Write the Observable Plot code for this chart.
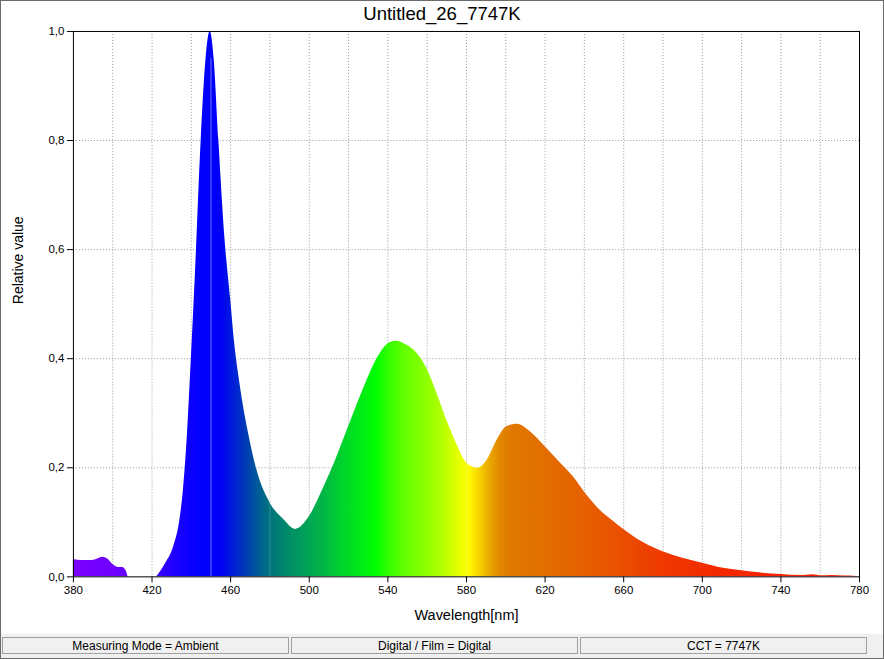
<!DOCTYPE html>
<html>
<head>
<meta charset="utf-8">
<script src="https://cdn.jsdelivr.net/npm/d3@7"></script>
<script src="https://cdn.jsdelivr.net/npm/@observablehq/plot@0.6"></script>
<style>
  html, body { margin: 0; padding: 0; background: #fff; }
  #win {
    position: relative; width: 884px; height: 659px; box-sizing: border-box;
    border: 1px solid #6a6a6a; background: #fff; overflow: hidden;
    font-family: "Liberation Sans", Arial, sans-serif;
  }
  #title {
    position: absolute; top: 2px; left: 0; width: 882px; text-align: center;
    font-size: 18.5px; color: #000;
  }
  #chart { position: absolute; top: -1px; left: -1px; }
  #status {
    position: absolute; left: 0; top: 633px; width: 882px; height: 24px; background: #f0f0f0;
  }
  .panel {
    position: absolute; top: 3px; height: 17px; box-sizing: border-box;
    border: 1px solid #a0a0a0; font-size: 12px; line-height: 16px; text-align: center; color: #000;
  }
</style>
</head>
<body>
<div id="win">
  <div id="chart"></div>
  <div id="title">Untitled_26_7747K</div>
  <div id="status"></div>
</div>
<script>
// spectrum
const wavelengths = [380, 384, 388, 391, 395, 398, 400, 403, 405, 407, 408, 422, 424, 427, 431, 434, 436, 438, 440, 442, 445, 447.5, 449.6, 451.6, 454, 457, 460, 462, 464.5, 469, 474, 480, 487, 493, 500, 506, 513, 520, 528, 535, 540, 544, 550, 555, 560, 565, 570, 575, 580, 585.5, 590.5, 595.5, 600.5, 606, 612.5, 621, 628, 634.5, 641, 648, 655, 660, 670, 680, 690, 700, 710, 720, 730, 740, 750, 756, 761, 766, 772, 777, 780]
const values = [0.032, 0.030, 0.030, 0.031, 0.036, 0.031, 0.023, 0.017, 0.017, 0.010, 0, 0, 0.008, 0.025, 0.055, 0.10, 0.16, 0.26, 0.40, 0.55, 0.80, 0.95, 1.0, 0.95, 0.80, 0.625, 0.51, 0.43, 0.36, 0.265, 0.188, 0.136, 0.105, 0.087, 0.11, 0.153, 0.21, 0.275, 0.348, 0.403, 0.427, 0.432, 0.424, 0.409, 0.381, 0.336, 0.287, 0.244, 0.209, 0.199, 0.214, 0.25, 0.275, 0.280, 0.266, 0.235, 0.208, 0.183, 0.151, 0.122, 0.101, 0.087, 0.063, 0.046, 0.034, 0.025, 0.016, 0.011, 0.007, 0.0043, 0.0025, 0.004, 0.002, 0.0025, 0.0015, 0.001, 0]

// colour of the fill along the wavelength axis
const stopNm = [380, 400, 410, 425, 435, 445, 455, 462, 468, 474, 480, 488, 498, 508, 518, 528, 534, 540, 548, 556, 564, 572, 578, 582, 586, 591, 597, 603, 620, 645, 665, 685, 710, 740, 780]
const stopColors = ['#7b00ff', '#7000ff', '#5e00ff', '#3400ff', '#1400ff', '#0000ff', '#0000f5', '#0020d8', '#003cb4', '#005a98', '#00727e', '#00886c', '#00a058', '#00b844', '#00d62a', '#00ee12', '#00ff00', '#30ff00', '#60ff00', '#80ff00', '#a0ff00', '#ccff00', '#eeff00', '#fff700', '#f8d800', '#ecb000', '#e28800', '#e07800', '#e26e00', '#e75c00', '#ec4800', '#f03400', '#f42800', '#f82200', '#ff2000']

const xTicks = d3.range(380, 781, 40)
const xGrid = d3.range(400, 761, 20)
const yTicks = [0, 0.2, 0.4, 0.6, 0.8, 1.0]
const yGrid = [0.2, 0.4, 0.6, 0.8]
const markNm = [450, 480, 580] // light lines showing through the fill
const markOpacity = [0.45, 0.2, 0.2]

const statusTexts = ['Measuring Mode = Ambient', 'Digital / Film = Digital', 'CCT = 7747K']

const data = wavelengths.map((w, i) => ({w: w, v: values[i]}))
const marks = markNm.map((nm, i) => ({w: nm, v: values[wavelengths.findIndex(w => w >= nm)], o: markOpacity[i]}))

let chart = Plot.plot({
  width: 884,
  height: 634,
  marginTop: 31,
  marginLeft: 73,
  marginRight: 24,
  marginBottom: 57,
  style: {fontFamily: '"Liberation Sans", Arial, sans-serif', fontSize: '11.5px', color: '#000', background: 'transparent'},
  x: {domain: [380, 780]},
  y: {domain: [0, 1]},
  marks: [
    Plot.ruleX(xGrid, {stroke: '#9a9a9a', strokeDasharray: '1,2'}),
    Plot.ruleY(yGrid, {stroke: '#9a9a9a', strokeDasharray: '1,2'}),
    Plot.areaY(data, {x: 'w', y: 'v', fill: 'url(#spectrum)', curve: 'monotone-x'}),
    Plot.ruleX(marks, {x: 'w', y1: 0, y2: 'v', stroke: '#fff', strokeOpacity: 'o'}),
    Plot.frame({stroke: '#000'}),
    Plot.axisX({ticks: xTicks, tickSize: 6, label: null, tickFormat: d => String(d)}),
    Plot.axisY({ticks: yTicks, tickSize: 6, label: null, tickFormat: d => d.toFixed(1).replace('.', ',')}),
    Plot.text(['Wavelength[nm]'], {frameAnchor: 'bottom', dy: 43, fontSize: 14.5}),
    Plot.text(['Relative value'], {frameAnchor: 'left', dx: -55, rotate: -90, fontSize: 14}),
  ],
})

// spectral gradient in pixel space so each wavelength gets its colour
const xs = chart.scale('x')
const grad = d3.select(chart).insert('defs', ':first-child')
  .append('linearGradient')
  .attr('id', 'spectrum')
  .attr('gradientUnits', 'userSpaceOnUse')
  .attr('x1', xs.apply(380)).attr('x2', xs.apply(780))
  .attr('y1', 0).attr('y2', 0)
stopNm.forEach((nm, i) => {
  grad.append('stop').attr('offset', (nm - 380) / 400).attr('stop-color', stopColors[i])
})

d3.select('#chart').append(() => chart)

// status bar panels
const panelX = [[1, 288], [290, 577], [579, 866]]
d3.select('#status').selectAll('div').data(statusTexts).join('div')
  .attr('class', 'panel')
  .style('left', (d, i) => panelX[i][0] + 'px')
  .style('width', (d, i) => (panelX[i][1] - panelX[i][0]) + 'px')
  .text(d => d)
</script>
</body>
</html>
